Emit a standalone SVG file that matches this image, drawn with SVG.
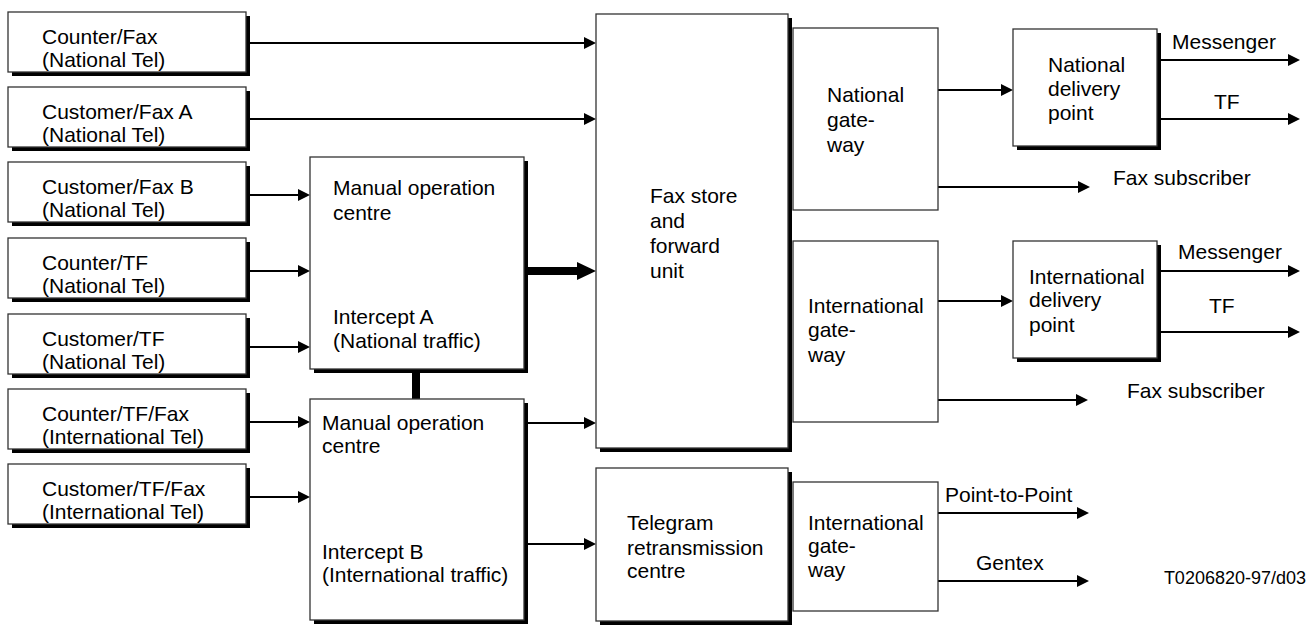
<svg xmlns="http://www.w3.org/2000/svg" width="1310" height="625" viewBox="0 0 1310 625">
<style>
.box{fill:#fff;stroke:#333;stroke-width:1.3}
.sh{fill:#000}
text{font-family:"Liberation Sans",Arial,sans-serif;font-size:21px;fill:#000}
.ln{stroke:#000;stroke-width:2;fill:none}
.thick{stroke:#000;stroke-width:8;fill:none}
.ref{font-size:18px}
</style>
<defs>
<marker id="ah" markerUnits="userSpaceOnUse" markerWidth="12" markerHeight="12" refX="0" refY="6" orient="auto"><path d="M0,0 L12,6 L0,12 z" fill="#000"/></marker>
<marker id="ahb" markerUnits="userSpaceOnUse" markerWidth="19" markerHeight="18" refX="0" refY="9" orient="auto"><path d="M0,0 L19,9 L0,18 z" fill="#000"/></marker>
</defs>
<rect width="1310" height="625" fill="#fff"/>

<g id="connectors">
<line class="ln" x1="250" y1="43" x2="584" y2="43" marker-end="url(#ah)"/>
<line class="ln" x1="250" y1="119" x2="584" y2="119" marker-end="url(#ah)"/>
<line class="ln" x1="250" y1="195" x2="298" y2="195" marker-end="url(#ah)"/>
<line class="ln" x1="250" y1="271" x2="298" y2="271" marker-end="url(#ah)"/>
<line class="ln" x1="250" y1="347" x2="298" y2="347" marker-end="url(#ah)"/>
<line class="ln" x1="250" y1="422" x2="298" y2="422" marker-end="url(#ah)"/>
<line class="ln" x1="250" y1="497" x2="298" y2="497" marker-end="url(#ah)"/>
<line class="thick" x1="528" y1="271" x2="577" y2="271" marker-end="url(#ahb)"/>
<line class="thick" x1="416" y1="373" x2="416" y2="399"/>
<line class="ln" x1="528" y1="423" x2="584" y2="423" marker-end="url(#ah)"/>
<line class="ln" x1="528" y1="544" x2="584" y2="544" marker-end="url(#ah)"/>
<line class="ln" x1="938" y1="90" x2="1001" y2="90" marker-end="url(#ah)"/>
<line class="ln" x1="938" y1="187" x2="1078" y2="187" marker-end="url(#ah)"/>
<line class="ln" x1="938" y1="301" x2="1001" y2="301" marker-end="url(#ah)"/>
<line class="ln" x1="938" y1="400" x2="1076" y2="400" marker-end="url(#ah)"/>
<line class="ln" x1="1161" y1="60" x2="1288" y2="60" marker-end="url(#ah)"/>
<line class="ln" x1="1161" y1="119" x2="1288" y2="119" marker-end="url(#ah)"/>
<line class="ln" x1="1161" y1="271" x2="1288" y2="271" marker-end="url(#ah)"/>
<line class="ln" x1="1161" y1="332" x2="1288" y2="332" marker-end="url(#ah)"/>
<line class="ln" x1="938" y1="513" x2="1077" y2="513" marker-end="url(#ah)"/>
<line class="ln" x1="938" y1="581" x2="1077" y2="581" marker-end="url(#ah)"/>
<text x="1172" y="49">Messenger</text>
<text x="1214" y="109">TF</text>
<text x="1113" y="185">Fax subscriber</text>
<text x="1178" y="259">Messenger</text>
<text x="1209" y="313">TF</text>
<text x="1127" y="398">Fax subscriber</text>
<text x="945" y="502">Point-to-Point</text>
<text x="976" y="570">Gentex</text>
</g>

<g id="counter-fax"><rect class="sh" x="12" y="16" width="238" height="60"/><rect class="box" x="8" y="12" width="238" height="60"/><text x="42" y="44">Counter/Fax</text><text x="42" y="67">(National Tel)</text></g>
<g id="customer-fax-a"><rect class="sh" x="12" y="91" width="238" height="60"/><rect class="box" x="8" y="87" width="238" height="60"/><text x="42" y="119">Customer/Fax A</text><text x="42" y="142">(National Tel)</text></g>
<g id="customer-fax-b"><rect class="sh" x="12" y="166" width="238" height="60"/><rect class="box" x="8" y="162" width="238" height="60"/><text x="42" y="194">Customer/Fax B</text><text x="42" y="217">(National Tel)</text></g>
<g id="counter-tf"><rect class="sh" x="12" y="242" width="238" height="60"/><rect class="box" x="8" y="238" width="238" height="60"/><text x="42" y="270">Counter/TF</text><text x="42" y="293">(National Tel)</text></g>
<g id="customer-tf"><rect class="sh" x="12" y="318" width="238" height="60"/><rect class="box" x="8" y="314" width="238" height="60"/><text x="42" y="346">Customer/TF</text><text x="42" y="369">(National Tel)</text></g>
<g id="counter-tf-fax"><rect class="sh" x="12" y="393" width="238" height="60"/><rect class="box" x="8" y="389" width="238" height="60"/><text x="42" y="421">Counter/TF/Fax</text><text x="42" y="444">(International Tel)</text></g>
<g id="customer-tf-fax"><rect class="sh" x="12" y="468" width="238" height="60"/><rect class="box" x="8" y="464" width="238" height="60"/><text x="42" y="496">Customer/TF/Fax</text><text x="42" y="519">(International Tel)</text></g>

<g id="manual-a"><rect class="sh" x="314" y="161" width="214" height="212"/><rect class="box" x="310" y="157" width="214" height="212"/><text x="333" y="195">Manual operation</text><text x="333" y="220">centre</text><text x="333" y="324">Intercept A</text><text x="333" y="348">(National traffic)</text></g>
<g id="manual-b"><rect class="sh" x="314" y="403" width="214" height="221"/><rect class="box" x="310" y="399" width="214" height="221"/><text x="322" y="430">Manual operation</text><text x="322" y="453">centre</text><text x="322" y="559">Intercept B</text><text x="322" y="582">(International traffic)</text></g>

<g id="fax-store"><rect class="sh" x="600" y="18" width="192" height="434"/><rect class="box" x="596" y="14" width="192" height="434"/><text x="650" y="203">Fax store</text><text x="650" y="228">and</text><text x="650" y="253">forward</text><text x="650" y="278">unit</text></g>
<g id="national-gateway"><rect class="box" x="793" y="28" width="145" height="182"/><text x="827" y="102">National</text><text x="827" y="127">gate-</text><text x="827" y="152">way</text></g>
<g id="international-gateway"><rect class="box" x="793" y="241" width="145" height="181"/><text x="808" y="313">International</text><text x="808" y="337">gate-</text><text x="808" y="362">way</text></g>
<g id="telegram"><rect class="sh" x="600" y="472" width="192" height="153"/><rect class="box" x="596" y="468" width="192" height="153"/><text x="627" y="530">Telegram</text><text x="627" y="555">retransmission</text><text x="627" y="578">centre</text></g>
<g id="international-gateway-2"><rect class="box" x="793" y="482" width="145" height="129"/><text x="808" y="530">International</text><text x="808" y="553">gate-</text><text x="808" y="577">way</text></g>
<g id="national-delivery"><rect class="sh" x="1017" y="33" width="144" height="117"/><rect class="box" x="1013" y="29" width="144" height="117"/><text x="1048" y="72">National</text><text x="1048" y="96">delivery</text><text x="1048" y="120">point</text></g>
<g id="international-delivery"><rect class="sh" x="1017" y="245" width="144" height="117"/><rect class="box" x="1013" y="241" width="144" height="117"/><text x="1029" y="284">International</text><text x="1029" y="307">delivery</text><text x="1029" y="332">point</text></g>

<text class="ref" x="1306" y="584" text-anchor="end">T0206820-97/d03</text>
</svg>
